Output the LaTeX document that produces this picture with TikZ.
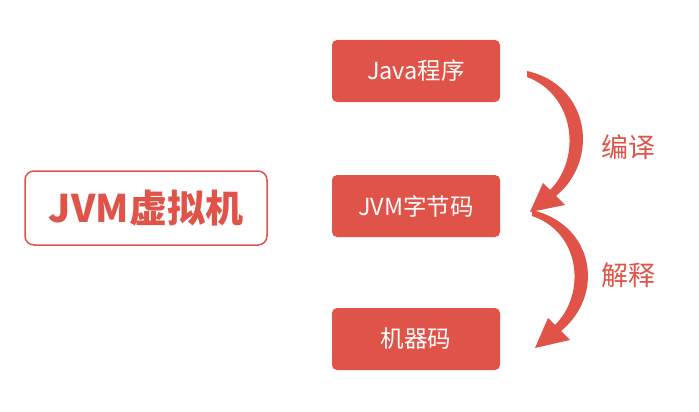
\documentclass[tikz,border=0pt]{standalone}
\usepackage{fontspec}
\setmainfont{Noto Sans CJK SC}
\definecolor{jred}{HTML}{DF5349}
\begin{document}
\begin{tikzpicture}[x=1pt,y=-1pt,
  redbox/.style={fill=jred,rounded corners=5pt,minimum width=168pt,minimum height=62pt,text=white,font=\fontsize{23.5}{26}\selectfont},
  lbl/.style={text=jred,font=\fontsize{27}{30}\selectfont}]
\useasboundingbox (0,0) rectangle (699,412);
\node[draw=jred,line width=1.5pt,rounded corners=9pt,minimum width=242pt,minimum height=74pt,text=jred,font=\fontsize{38}{40}\selectfont\bfseries] (jvm) at (146,208) {JVM虚拟机};
\node[redbox] (java) at (416,71) {Java程序};
\node[redbox] (byte) at (416,206) {JVM字节码};
\node[redbox] (mach) at (416,339) {机器码};
% arrow 1
\fill[jred] (527,71) .. controls (590,85) and (600,160) .. (556,196)
  -- (565,205) -- (530,212) -- (543,183)
  -- (550,190) .. controls (582,158) and (575,95) .. (527,77) -- cycle;
% arrow 2
\fill[jred] (532,210) .. controls (595,225) and (605,295) .. (561,331)
  -- (570,340) -- (535,348) -- (548,318)
  -- (555,325) .. controls (587,293) and (580,232) .. (532,216) -- cycle;
\node[lbl] (l1) at (628,147) {编译};
\node[lbl] (l2) at (628,275) {解释};
\end{tikzpicture}
\end{document}
